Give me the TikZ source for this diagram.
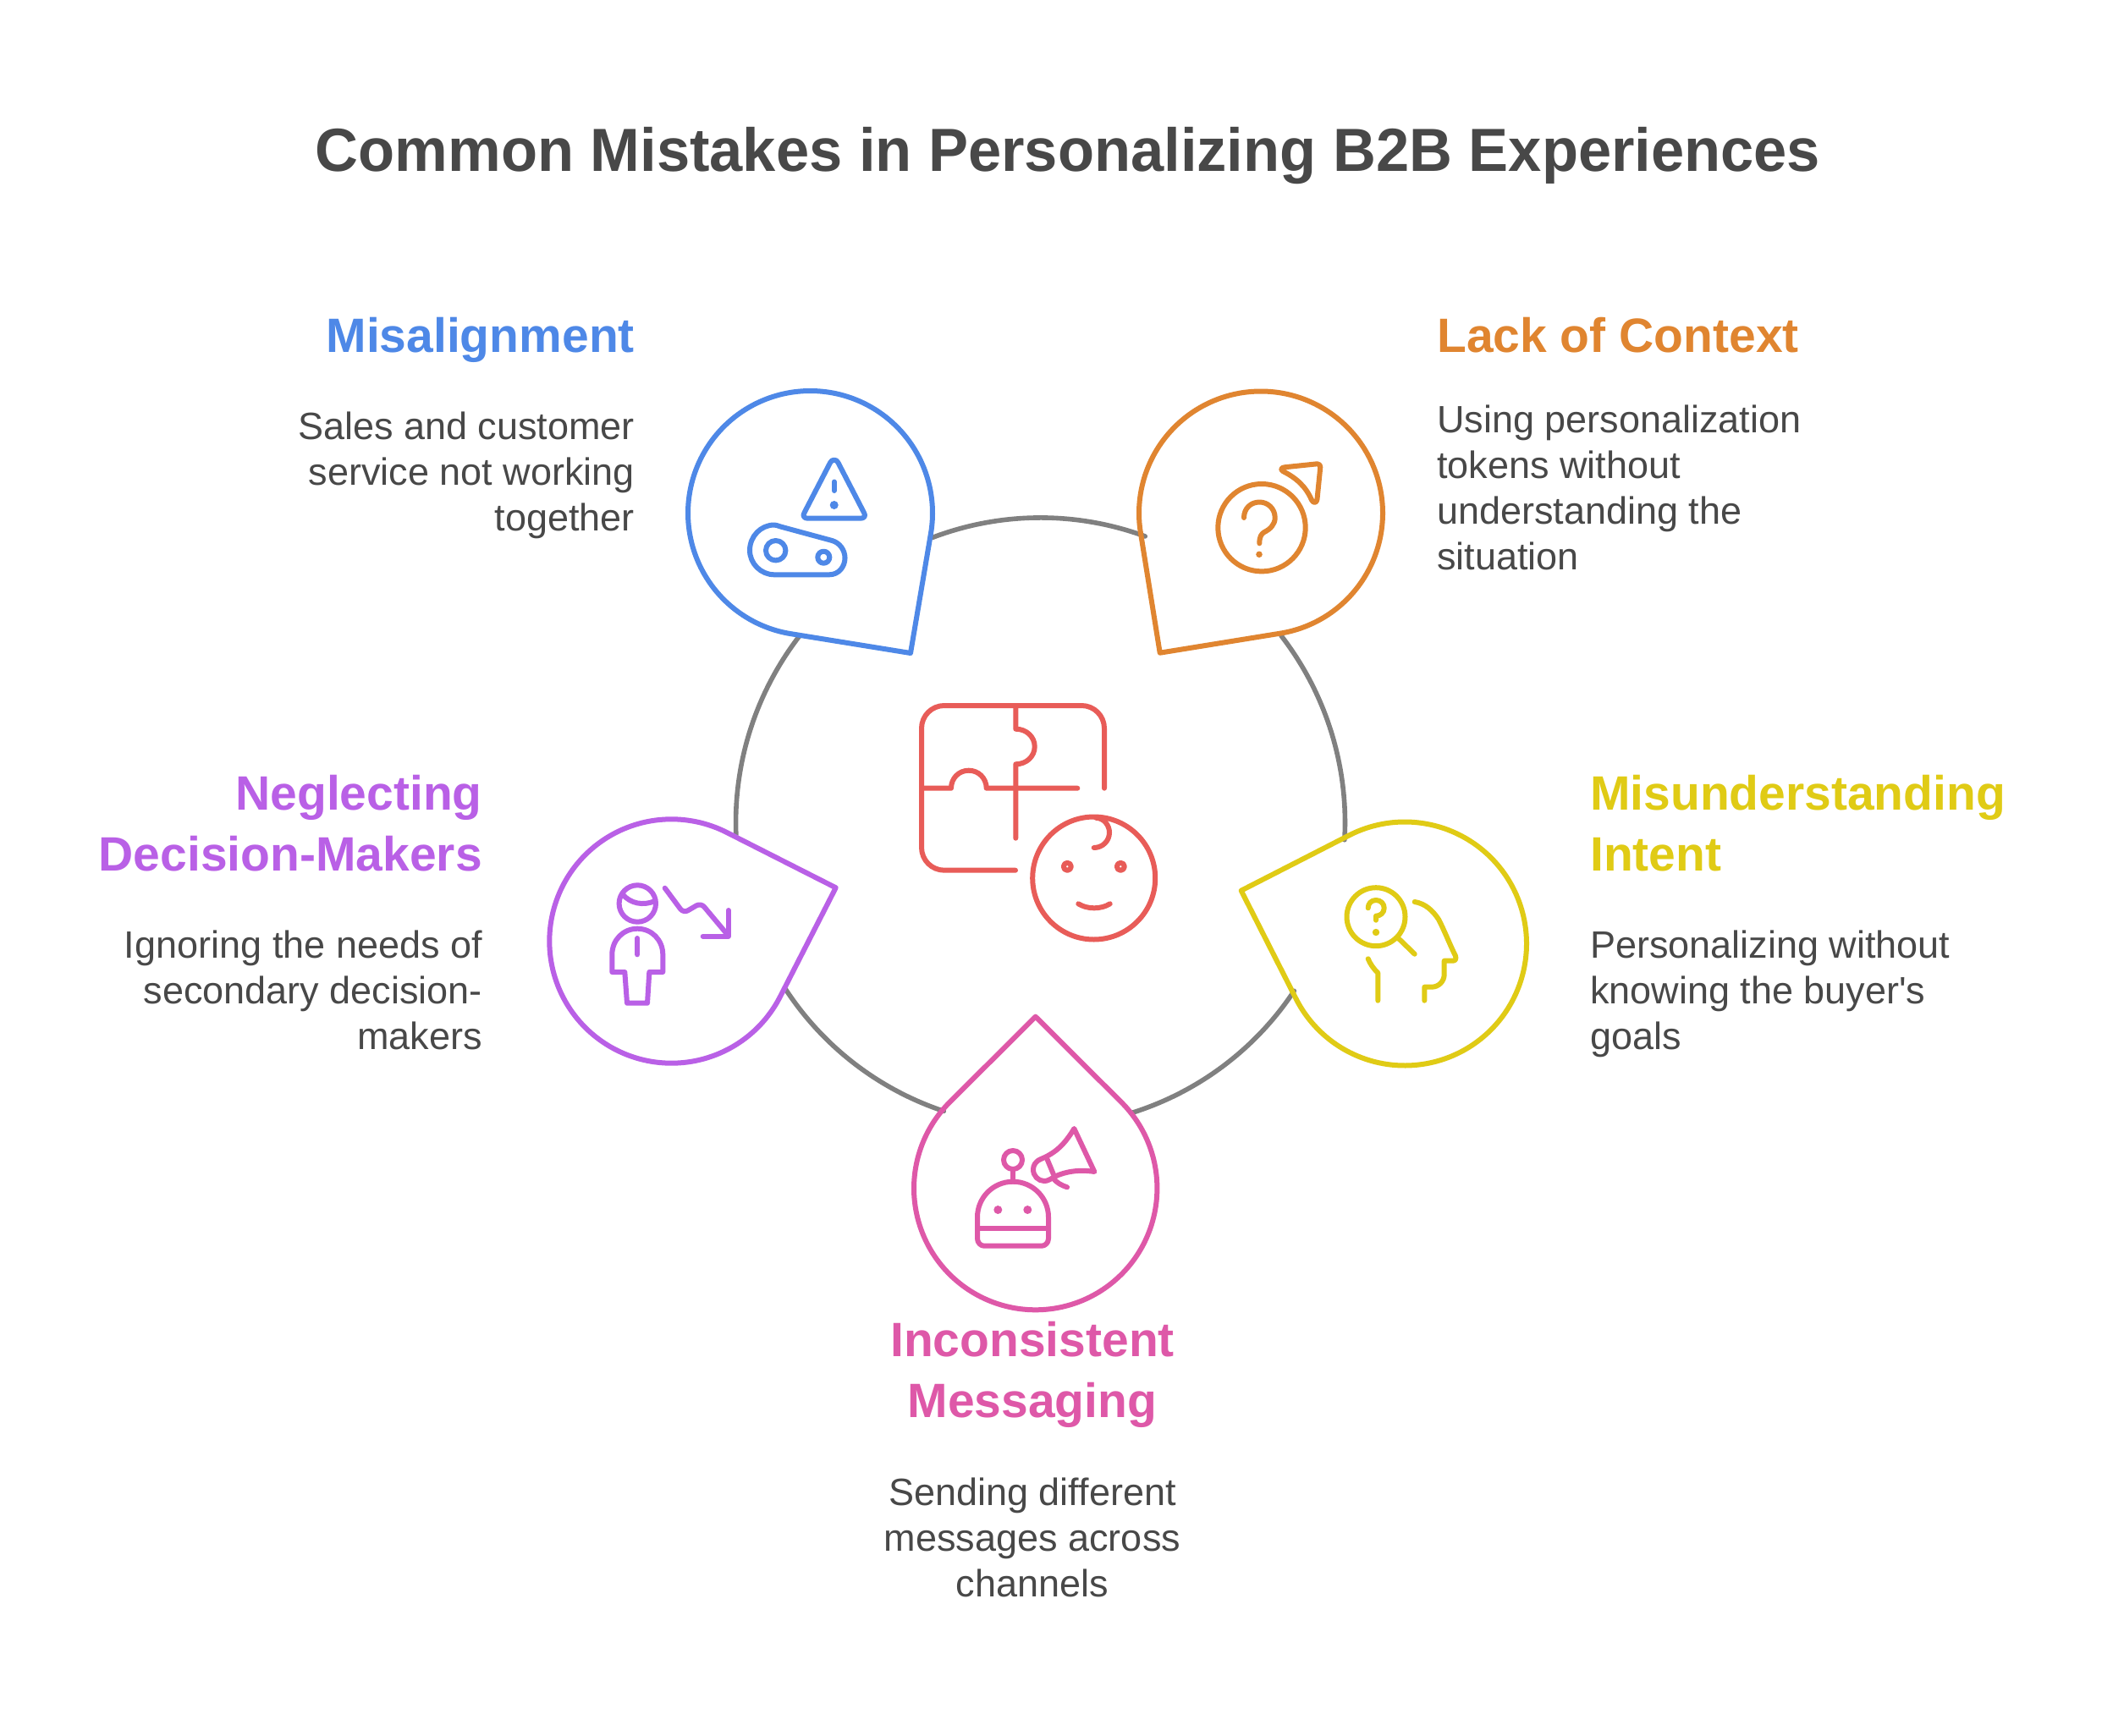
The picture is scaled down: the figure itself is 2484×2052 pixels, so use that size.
\documentclass[tikz,border=0pt]{standalone}
\usepackage{fontspec}
\setmainfont{Liberation Sans}
\newfontfamily\plainf{Liberation Sans}
\newfontfamily\titlef[FakeStretch=0.979]{Liberation Sans}
\definecolor{cblue}{HTML}{4E88E7}
\definecolor{corange}{HTML}{E08530}
\definecolor{cyellow}{HTML}{E0CB15}
\definecolor{cpink}{HTML}{DE58A8}
\definecolor{cpurple}{HTML}{B960E6}
\definecolor{cred}{HTML}{E85C58}
\definecolor{cgray}{HTML}{808080}
\definecolor{ctext}{HTML}{484848}
\tikzset{
  ink/.style={line width=6pt,line cap=round,line join=round},
  ring/.style={line width=5.6pt,color=cgray,line cap=round},
  titletext/.style={inner sep=0pt,text=ctext,font=\titlef\fontsize{72}{86}\selectfont\bfseries},
  headtext/.style={inner sep=0pt,font=\plainf\fontsize{57}{72}\selectfont\bfseries},
  bodytext/.style={inner sep=0pt,text=ctext,font=\plainf\fontsize{45}{54}\selectfont},
}
% centre x, centre y, radius, tip x, tip y, colour, tip name
\newcommand\dropshape[7]{%
  \pgfmathsetmacro\dth{atan2(#5-#2,#4-#1)}%
  \pgfmathsetmacro\dd{veclen(#5-#2,#4-#1)}%
  \pgfmathsetmacro\dal{acos(#3/\dd)}%
  \pgfmathsetmacro\dfrom{\dth+\dal}%
  \pgfmathsetmacro\dto{\dth+360-\dal}%
  \coordinate (#7) at (#4,#5);
  \draw[ink,color=#6] (#7) -- plot[domain=\dfrom:\dto,samples=180,variable=\t] ({#1+#3*cos(\t)},{#2+#3*sin(\t)}) -- cycle;
}
\begin{document}
\begin{tikzpicture}[x=1pt,y=-1pt]
\useasboundingbox (0,0) rectangle (2484,2052);
\fill[white] (0,0) rectangle (2484,2052);
% ring
\coordinate (c) at (1229.5,972);
\coordinate (r1a) at ([shift={(c)}]110.8:360pt);
\coordinate (r1b) at ([shift={(c)}]69.9:360pt);
\coordinate (r2a) at ([shift={(c)}]37.8:360pt);
\coordinate (r2b) at ([shift={(c)}]-3.3:360pt);
\coordinate (r3a) at ([shift={(c)}]-33.6:360pt);
\coordinate (r3b) at ([shift={(c)}]-72.3:360pt);
\coordinate (r4a) at ([shift={(c)}]-108.5:360pt);
\coordinate (r4b) at ([shift={(c)}]-147:360pt);
\coordinate (r5a) at ([shift={(c)}]182.4:360pt);
\coordinate (r5b) at ([shift={(c)}]142.2:360pt);
\draw[ring] (r1a) to[bend left=20.5,looseness=0.88] (r1b);
\draw[ring] (r2a) to[bend left=20.5,looseness=0.88] (r2b);
\draw[ring] (r3a) to[bend left=19.4,looseness=0.88] (r3b);
\draw[ring] (r4a) to[bend left=19.3,looseness=0.88] (r4b);
\draw[ring] (r5a) to[bend left=20,looseness=0.88] (r5b);
% droplets
\dropshape{957.5}{606.5}{144.5}{1076}{772}{cblue}{tipblue}
\dropshape{1490}{606.5}{144}{1370.7}{771.7}{corange}{tiporange}
\dropshape{1660}{1115.5}{144}{1466.7}{1052.7}{cyellow}{tipyellow}
\dropshape{1223.7}{1404.6}{143.7}{1223.7}{1201.7}{cpink}{tippink}
\dropshape{793.5}{1112.5}{144.2}{987.7}{1049.3}{cpurple}{tippurple}
% blue icon
\begin{scope}[ink,color=cblue]
\draw (981,547) .. controls (983,542.5) and (988.5,542.5) .. (990.5,547) -- (1021,606) .. controls (1023.5,610) and (1021,612.7) .. (1017,612.7) -- (954.5,612.7) .. controls (950.5,612.7) and (948,610) .. (950.5,606) -- cycle;
\draw (985.7,569.5) -- (985.7,580);
\fill (985.7,597) circle (5pt);
\draw (921.7,622.3) -- (983.3,639) .. controls (992,641.5) and (998.5,650) .. (998.5,659.5) .. controls (998.5,670) and (991,679.3) .. (980,679.3) -- (915,679.3) .. controls (899,679.3) and (886,666) .. (886,650.5) .. controls (886,634) and (899,620.5) .. (915,620.5) .. controls (917,620.5) and (919.5,621.6) .. (921.7,622.3) -- cycle;
\draw (916.7,650.7) circle (11.7pt);
\draw (973.3,658.7) circle (7pt);
\end{scope}
% orange icon
\begin{scope}[ink,color=corange]
\draw (1491,623.7) circle (51.7pt);
\draw (1470,612) .. controls (1470,601) and (1478,593.5) .. (1488.5,593.5) .. controls (1498,593.5) and (1506.7,601) .. (1506.7,612) .. controls (1506.7,620) and (1501,625.5) .. (1494,629) .. controls (1490.5,631) and (1488.3,634.5) .. (1488.3,642.3);
\fill (1488,655.3) circle (3.8pt);
\draw (1518,552.3) -- (1556.5,548.3) .. controls (1559,548.3) and (1560.5,550) .. (1560.3,552) -- (1556.5,590) .. controls (1556,595) and (1552,595) .. (1550,591) .. controls (1543,575) and (1532,565) .. (1516,557) .. controls (1513,555) and (1514,552.8) .. (1518,552.3) -- cycle;
\end{scope}
% red centre icon
\begin{scope}[ink,color=cred]
\draw (1305,931.7) -- (1305,861) .. controls (1305,846) and (1293,834) .. (1278,834) -- (1116,834) .. controls (1101,834) and (1089,846) .. (1089,861) -- (1089,1001.7) .. controls (1089,1016.7) and (1101,1028.7) .. (1116,1028.7) -- (1200,1028.7);
\draw (1200.3,834) -- (1200.3,861.7) .. controls (1213,861.7) and (1222.7,871) .. (1222.7,882.5) .. controls (1222.7,894) and (1213,903.3) .. (1200.3,903.3) -- (1200.3,990.7);
\draw (1089,931.7) -- (1124,931.7) .. controls (1124,920) and (1133,910.7) .. (1144.8,910.7) .. controls (1156.5,910.7) and (1165.7,920) .. (1165.7,931.7) -- (1273.3,931.7);
\draw (1292.7,1038) circle (72.5pt);
\draw (1295,966.7) .. controls (1305,967) and (1311,976) .. (1311,984) .. controls (1311,994) and (1303,1002) .. (1292.7,1002);
\draw (1261.3,1024.3) circle (4.5pt);
\draw (1324.3,1024.3) circle (4.5pt);
\draw (1274.3,1068.3) .. controls (1285,1075) and (1301,1075) .. (1311.7,1068.3);
\end{scope}
% purple icon
\begin{scope}[ink,color=cpurple]
\draw (753.3,1068) circle (21.7pt);
\draw (736,1057.3) .. controls (745,1068) and (760,1071) .. (774,1065);
\draw (723.3,1149) -- (723.3,1128.3) .. controls (723.3,1111) and (736.5,1097.7) .. (753.3,1097.7) .. controls (770,1097.7) and (783.3,1111) .. (783.3,1128.3) -- (783.3,1149) -- (767.3,1149) -- (765,1185.7) -- (741,1185.7) -- (738.3,1149) -- cycle;
\draw (753.3,1109) -- (753.3,1128.3);
\draw[rounded corners=6pt] (785.7,1049.7) -- (807.7,1079.3) -- (828.3,1067.3) -- (860.7,1106);
\draw (860.7,1076) -- (860.7,1106.7) -- (830.7,1106.7);
\end{scope}
% yellow icon
\begin{scope}[ink,color=cyellow]
\draw (1626,1083.7) circle (34.5pt);
\draw (1616.7,1073.3) .. controls (1616.7,1068) and (1620.5,1064) .. (1626,1064) .. controls (1631.5,1064) and (1635.7,1068) .. (1635.7,1073.3) .. controls (1635.7,1079) and (1631,1082.7) .. (1626,1082.7) -- (1626,1087.7);
\fill (1626,1102) circle (4.2pt);
\draw (1651.7,1108.3) -- (1671.7,1127.7);
\draw (1671.7,1066) .. controls (1684,1068) and (1693,1076) .. (1700,1086.7) .. controls (1706,1098) and (1714,1118) .. (1720,1130) .. controls (1721,1133) and (1720,1135.7) .. (1717,1135.7) -- (1706.7,1135.7) -- (1706.7,1151.7) .. controls (1706.7,1160) and (1700,1166.7) .. (1691.7,1166.7) -- (1683.3,1166.7) -- (1683.3,1182.7);
\draw (1616.7,1133.3) .. controls (1619,1139) and (1623,1145) .. (1628.3,1150) -- (1628.3,1182.7);
\end{scope}
% pink icon
\begin{scope}[ink,color=cpink]
\draw (1197,1371) circle (11pt);
\draw (1197,1382.3) -- (1197,1396.7);
\draw (1155,1438.7) .. controls (1155,1415.5) and (1173.8,1396.7) .. (1197,1396.7) .. controls (1220.2,1396.7) and (1239,1415.5) .. (1239,1438.7) -- (1239,1464) .. controls (1239,1469) and (1235,1472.7) .. (1231,1472.7) -- (1163,1472.7) .. controls (1159,1472.7) and (1155,1469) .. (1155,1464) -- cycle;
\draw (1155,1451.7) -- (1239,1451.7);
\fill (1179.3,1430) circle (5pt);
\fill (1214.3,1430) circle (5pt);
\draw (1269.3,1334) .. controls (1258,1353) and (1247,1363) .. (1230,1370) .. controls (1223,1373) and (1221,1378) .. (1221,1382.5) .. controls (1221,1390) and (1227,1396) .. (1234,1396) .. controls (1238,1396) and (1241,1394) .. (1246,1391) .. controls (1258,1385) and (1275,1382) .. (1293.3,1385) -- cycle;
\draw (1236.7,1368.3) -- (1245,1388.3);
\draw (1245,1393.3) .. controls (1249,1398) and (1254,1401) .. (1261,1403.3);
\end{scope}
% texts
\node[titletext,anchor=base] (title) at (1262,202.7) {Common Mistakes in Personalizing B2B Experiences};
\node[headtext,text=cblue,anchor=base east] (h1) at (750,416) {Misalignment};
\node[bodytext,align=right,anchor=north east] (b1) at (750,487) {Sales and customer\\service not working\\together};
\node[headtext,text=corange,anchor=base west] (h2) at (1698,416) {Lack of Context};
\node[bodytext,align=left,anchor=north west] (b2) at (1698,479) {Using personalization\\tokens without\\understanding the\\situation};
\node[headtext,text=cpurple,align=right,anchor=north east] (h3) at (570,915.5) {Neglecting\\Decision-Makers};
\node[bodytext,align=right,anchor=north east] (b3) at (570,1100) {Ignoring the needs of\\secondary decision-\\makers};
\node[headtext,text=cyellow,align=left,anchor=north west] (h4) at (1879,915.5) {Misunderstanding\\Intent};
\node[bodytext,align=left,anchor=north west] (b4) at (1879,1100) {Personalizing without\\knowing the buyer's\\goals};
\node[headtext,text=cpink,align=center,anchor=north] (h5) at (1220,1562) {Inconsistent\\Messaging};
\node[bodytext,align=center,anchor=north] (b5) at (1220,1747) {Sending different\\messages across\\channels};
\end{tikzpicture}
\end{document}
